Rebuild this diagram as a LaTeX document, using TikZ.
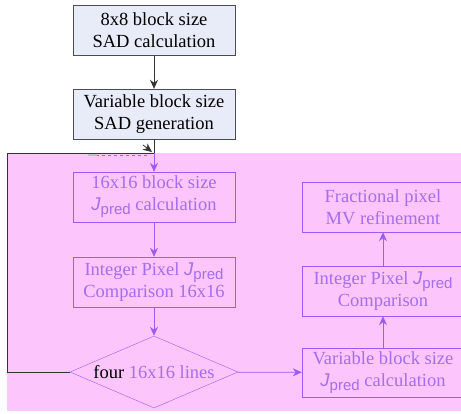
\documentclass[tikz,border=0pt]{standalone}
\usepackage{fontspec}
\setmainfont{Liberation Serif}
\setsansfont{Liberation Sans}
\usetikzlibrary{arrows.meta,shapes.geometric}
\definecolor{pinkbg}{HTML}{FCC6FC}
\definecolor{purp}{HTML}{9A5CF2}
\definecolor{purptext}{HTML}{A46EEC}
\definecolor{boxfill}{HTML}{E8ECF8}
\newcommand{\Jpred}{{\sffamily\itshape J}\raisebox{-0.45ex}{\fontsize{15}{15}\selectfont\sffamily pred}}
\tikzset{
  topbox/.style={draw=black!70, fill=boxfill, minimum width=162pt, minimum height=50pt, align=center, inner sep=0pt, font=\fontsize{18.5}{22}\selectfont},
  pbox/.style={draw=purp, minimum width=162pt, minimum height=50pt, align=center, inner sep=0pt, text=purptext, font=\fontsize{18.5}{22}\selectfont},
  blk/.style={draw=black!80, line width=0.8pt, -{Stealth[length=9pt,width=8pt]}},
  parr/.style={draw=purp, line width=0.8pt, -{Stealth[length=9pt,width=8pt]}},
}
\begin{document}
\begin{tikzpicture}[x=1pt,y=-1pt]
\useasboundingbox (0,0) rectangle (461,413);
\fill[pinkbg] (7,153) rectangle (461,411);
\node[topbox] (b1) at (154,30.5) {8x8 block size\\SAD calculation};
\node[topbox] (b2) at (154,114) {Variable block size\\SAD generation};
\node[pbox] (b3) at (154,197) {16x16 block size\\\Jpred{} calculation};
\node[pbox] (b4) at (154,282) {Integer Pixel \Jpred\\Comparison 16x16};
\node[draw=purp, diamond, aspect=2.333, minimum width=168pt, minimum height=72pt, inner sep=0pt, font=\fontsize{18.5}{22}\selectfont] (d) at (154,372) {four \textcolor{purptext}{16x16 lines}};
\node[pbox] (b5) at (383,207) {Fractional pixel\\MV refinement};
\node[pbox] (b6) at (383,291) {Integer Pixel \Jpred\\Comparison};
\node[pbox, minimum height=49pt] (b7) at (383,372.5) {Variable block size\\\Jpred{} calculation};
\coordinate (j) at (154,153);
\coordinate (l1) at (7,372);
\coordinate (l2) at (7,153);
\coordinate (ah0) at (143,145);
\coordinate (ah1) at (152,152);
\coordinate (ds0) at (96,155);
\coordinate (ds1) at (150,155);
\draw[blk] (b1) -- (b2);
\draw[black!80, line width=0.8pt] (b2) -- (j);
\draw[black!80, line width=0.6pt] (d.west) -- (l1) -- (l2) -- (j);
\draw[blk] (ah0) -- (ah1);
\draw[purp, dashed, line width=0.5pt] (ds0) -- (ds1);
\fill[black!25] (88,153.5) rectangle (97,156);
\draw[parr] (j) -- (b3);
\draw[parr] (b3) -- (b4);
\draw[parr] (b4) -- (d);
\draw[parr] (d) -- (b7);
\draw[parr] (b7) -- (b6);
\draw[parr] (b6) -- (b5);
\end{tikzpicture}
\end{document}
